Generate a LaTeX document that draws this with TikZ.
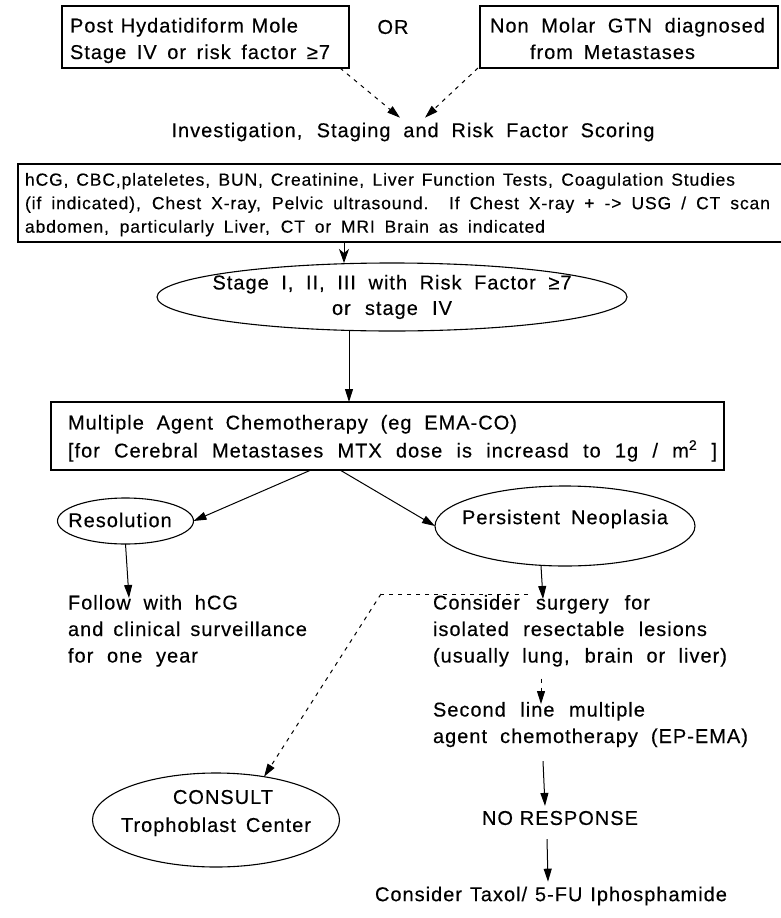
\documentclass[tikz,border=0pt]{standalone}
\usepackage{fontspec}
\setmainfont{Liberation Sans}[LetterSpace=5, FakeBold=0.3]
\usetikzlibrary{shapes.geometric,arrows.meta}
% a line of text spread to a given width (in pt) by stretching the word spaces
\newcommand{\fitline}[2]{\makebox[#1pt][s]{#2}}

\begin{document}
\begin{tikzpicture}[x=1pt,y=-1pt,
  every node/.style={inner sep=0pt, outer sep=0pt, font=\fontsize{20}{26.5}\selectfont},
  frame/.style={draw, line width=1.6pt, rectangle},
  oval/.style={draw, line width=1.1pt, ellipse},
  txt/.style={anchor=north west, align=left},
  link/.style={line width=1pt, -{Triangle[length=13pt,width=8pt]}},
  dlink/.style={line width=1pt, dash pattern=on 4pt off 5pt, -{Triangle[length=13pt,width=8pt]}},
]
\useasboundingbox (0,0) rectangle (781,918);
\fill[white] (0,0) rectangle (781,918);

% ---- entry conditions ----
\node[frame, minimum width=287pt, minimum height=62pt] (mole) at (205.5,37) {};
\node[txt] (moletxt) at (70,18) {\fitline{228}{Post Hydatidiform Mole}\\
  \fitline{260}{Stage IV or risk factor ≥7}};
\node (or) at (393,27) {OR};
\node[frame, minimum width=298pt, minimum height=62pt] (gtn) at (629,37) {};
\node[txt] (gtntxt) at (490,18) {\fitline{275}{Non Molar GTN diagnosed}\\
  \hspace*{40pt}\fitline{165}{from Metastases}};

\node (inv) at (413,132) {\fitline{483}{Investigation, Staging and Risk Factor Scoring}};

\draw[dlink] ([xshift=-9pt]mole.south east) -- ([xshift=-13pt,yshift=5pt]inv.north);
\draw[dlink] ([xshift=-2pt]gtn.south west) -- ([xshift=12pt,yshift=5pt]inv.north);

% ---- work-up ----
\node[frame, minimum width=782pt, minimum height=78pt] (tests) at (409,203) {};
\node[txt, font=\fontsize{17.5}{23.5}\selectfont] (teststxt) at (25,173) {%
  \fitline{710}{hCG, CBC,plateletes, BUN, Creatinine, Liver Function Tests, Coagulation Studies}\\
  \fitline{745}{(if indicated), Chest X-ray, Pelvic ultrasound. If Chest X-ray + -> USG / CT scan}\\
  \fitline{520}{abdomen, particularly Liver, CT or MRI Brain as indicated}};

\node[oval, minimum width=470pt, minimum height=68pt] (stage) at (392,297) {};
\node[align=center, font=\fontsize{20}{25.5}\selectfont] (stagetxt) at (392,297) {%
  \fitline{359}{Stage I, II, III with Risk Factor ≥7}\\
  \fitline{120}{or stage IV}};

\draw[line width=1pt, -{Stealth[length=14pt,width=10pt,inset=4pt]}]
  ([xshift=-65pt]tests.south) -- ([xshift=-48pt]stage.north);

% ---- chemotherapy ----
\node[frame, minimum width=673pt, minimum height=68pt] (chemo) at (387.5,436) {};
\node[txt, font=\fontsize{20}{28}\selectfont] (chemotxt) at (68,415) {%
  \fitline{449}{Multiple Agent Chemotherapy (eg EMA-CO)}\\
  \fitline{649}{[for Cerebral Metastases MTX dose is increasd to 1g / m\textsuperscript{2} ]}};

\draw[link] ([xshift=-43pt]stage.south) -- ([xshift=-38.5pt]chemo.north);

% ---- outcomes ----
\node[oval, minimum width=136pt, minimum height=46pt] (res) at (125.5,521) {};
\node (restxt) at (120,520) {Resolution};
\node[oval, minimum width=260pt, minimum height=80pt] (pers) at (565,526) {};
\node (perstxt) at (565,519) {\fitline{206}{Persistent Neoplasia}};

\draw[link] ([xshift=-76.5pt]chemo.south) -- (res.east);
\draw[link] ([xshift=-47.5pt]chemo.south) -- (pers.west);

\node[txt] (follow) at (68,595) {\fitline{170}{Follow with hCG}\\
  \fitline{239}{and clinical surveillance}\\
  \fitline{130}{for one year}};
\draw[link] (res.south) -- ([xshift=61pt,yshift=-3pt]follow.north west);

\node[txt] (surg) at (433,595) {\fitline{217}{Consider surgery for}\\
  \fitline{274}{isolated resectable lesions}\\
  \fitline{294}{(usually lung, brain or liver)}};
\draw[link] ([xshift=-24pt]pers.south) -- ([xshift=110pt,yshift=-4pt]surg.north west);

\node[txt] (second) at (433,702) {\fitline{212}{Second line multiple}\\
  \fitline{315}{agent chemotherapy (EP-EMA)}};
\draw[dlink] ([xshift=108pt,yshift=-12pt]surg.south west) -- ([xshift=108pt,yshift=-2pt]second.north west);

\node (noresp) at (560,818) {\fitline{156}{NO RESPONSE}};
\draw[link] ([xshift=110pt,yshift=-14pt]second.south west) -- ([xshift=-15pt,yshift=5pt]noresp.north);

\node (taxol) at (551,896) {\fitline{352}{Consider Taxol/ 5-FU Iphosphamide}};
\draw[link] ([xshift=-13pt,yshift=-14pt]noresp.south) -- ([xshift=-3pt,yshift=5pt]taxol.north);

% ---- referral ----
\node[oval, minimum width=247pt, minimum height=94pt] (consult) at (216,820) {};
\node[align=center, font=\fontsize{20}{28}\selectfont] (consulttxt) at (216,813) {%
  \hspace*{14pt}CONSULT\\ \fitline{190}{Trophoblast Center}};
\coordinate (bend) at (381,594);
\draw[line width=1pt, dash pattern=on 4pt off 5pt]
  ([xshift=-37pt,yshift=-28pt]pers.south) -- (bend);
\draw[dlink] (bend) -- (consult.42);
\end{tikzpicture}
\end{document}
